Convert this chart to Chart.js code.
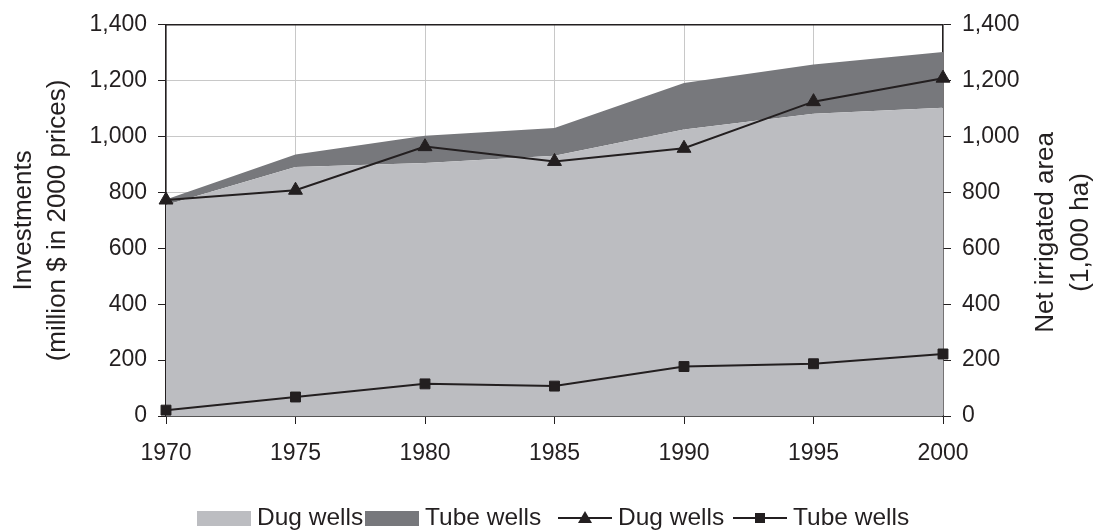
<!DOCTYPE html>
<html>

<head>
    <meta charset="utf-8">
    <title>Wells</title>
    <script src="https://cdn.jsdelivr.net/npm/chart.js"></script>
    <style>
        body {
            margin: 0;
            background: #fff;
        }

        canvas {
            display: block;
        }
    </style>
</head>

<body>
    <canvas id="graph" width="1096" height="531"></canvas>
    <script>
        // data
        const years = ['1970', '1975', '1980', '1985', '1990', '1995', '2000'];
        const dugInvest = [755, 891, 905, 931, 1025, 1082, 1103];
        const tubeInvest = [20, 45, 98, 100, 167, 176, 200];
        const dugArea = [773, 808, 964, 911, 958, 1125, 1209];
        const tubeArea = [21, 68, 115, 107, 177, 187, 222];
        const leftTitle = ['Investments', '(million $ in 2000 prices)'];
        const rightTitle = ['Net irrigated area', '(1,000 ha)'];

        const FONT = "'Liberation Sans', Arial, sans-serif";
        const ink = '#231f20';

        const fmt = v => Number(v).toLocaleString('en-US');

        // rotated axis titles (both read bottom to top)
        const titlePlugin = {
            id: 'titles',
            afterDraw(chart) {
                const ctx = chart.ctx;
                const mid = (chart.chartArea.top + chart.chartArea.bottom) / 2;
                const put = (lines, xs, cy) => {
                    lines.forEach((t, i) => {
                        ctx.save();
                        ctx.translate(xs[i], cy);
                        ctx.rotate(-Math.PI / 2);
                        ctx.fillStyle = ink;
                        ctx.font = '26px ' + FONT;
                        ctx.textAlign = 'center';
                        ctx.textBaseline = 'middle';
                        ctx.fillText(t, 0, 0);
                        ctx.restore();
                    });
                };
                put(leftTitle, [24, 58], mid);
                put(rightTitle, [1046, 1081], mid + 12);

                // top frame line
                const a = chart.chartArea;
                ctx.save();
                ctx.strokeStyle = ink;
                ctx.lineWidth = 1.5;
                ctx.beginPath();
                ctx.moveTo(a.left, a.top);
                ctx.lineTo(a.right, a.top);
                ctx.stroke();
                ctx.restore();
            }
        };

        // legend drawn by hand: boxes for areas, line+marker for lines
        const legendPlugin = {
            id: 'myLegend',
            afterDraw(chart) {
                const ctx = chart.ctx;
                const y = 518;
                const starts = [197, 365, 558, 733];
                ctx.save();
                ctx.font = '24.5px ' + FONT;
                ctx.textBaseline = 'middle';
                ctx.textAlign = 'left';
                chart.data.datasets.forEach((ds, i) => {
                    const x = starts[i];
                    if (ds.fill) {
                        ctx.fillStyle = ds.backgroundColor;
                        ctx.fillRect(x, y - 7, 54, 15);
                    } else {
                        ctx.strokeStyle = ink;
                        ctx.lineWidth = 2;
                        ctx.beginPath();
                        ctx.moveTo(x, y);
                        ctx.lineTo(x + 54, y);
                        ctx.stroke();
                        ctx.fillStyle = ink;
                        const cx = x + 27;
                        ctx.beginPath();
                        if (ds.pointStyle === 'triangle') {
                            ctx.moveTo(cx, y - 7);
                            ctx.lineTo(cx + 7, y + 5);
                            ctx.lineTo(cx - 7, y + 5);
                            ctx.closePath();
                        } else {
                            ctx.rect(cx - 5, y - 5, 10, 10);
                        }
                        ctx.fill();
                    }
                    ctx.fillStyle = ink;
                    ctx.fillText(ds.label, x + 54 + 6, y);
                });
                ctx.restore();
            }
        };

        const ctx = document.getElementById('graph').getContext('2d');
        new Chart(ctx, {
            type: 'line',
            data: {
                labels: years,
                datasets: [
                    {
                        label: 'Dug wells',
                        data: dugInvest,
                        yAxisID: 'y',
                        fill: 'origin',
                        backgroundColor: '#bcbdc1',
                        borderWidth: 0,
                        pointRadius: 0,
                        tension: 0
                    },
                    {
                        label: 'Tube wells',
                        data: tubeInvest,
                        yAxisID: 'y',
                        fill: '-1',
                        backgroundColor: '#77787c',
                        borderWidth: 0,
                        pointRadius: 0,
                        tension: 0
                    },
                    {
                        label: 'Dug wells',
                        data: dugArea,
                        yAxisID: 'y1',
                        fill: false,
                        borderColor: ink,
                        borderWidth: 2,
                        pointStyle: 'triangle',
                        pointRadius: 8,
                        pointBackgroundColor: ink,
                        pointBorderColor: ink,
                        pointBorderWidth: 1,
                        order: -1
                    },
                    {
                        label: 'Tube wells',
                        data: tubeArea,
                        yAxisID: 'y1',
                        fill: false,
                        borderColor: ink,
                        borderWidth: 2,
                        pointStyle: 'rect',
                        pointRadius: 7,
                        pointBackgroundColor: ink,
                        pointBorderColor: ink,
                        pointBorderWidth: 1,
                        order: -1
                    }
                ]
            },
            options: {
                responsive: false,
                animation: false,
                layout: { padding: { top: 20, left: 0, right: 0, bottom: 0 } },
                plugins: {
                    legend: { display: false },
                    tooltip: { enabled: false }
                },
                scales: {
                    x: {
                        grid: { color: '#c8c8c8', tickColor: ink, tickLength: 8, lineWidth: 1 },
                        border: { color: '#555', width: 2 },
                        ticks: { color: ink, font: { family: FONT, size: 23 }, padding: 16, maxRotation: 0 },
                        afterFit(s) { s.height = 115; }
                    },
                    y: {
                        position: 'left',
                        stacked: true,
                        min: 0,
                        max: 1400,
                        grid: { color: '#c8c8c8', tickColor: ink, tickLength: 8 },
                        border: { color: ink, width: 1.5 },
                        ticks: { stepSize: 200, color: ink, font: { family: FONT, size: 23 }, padding: 11, callback: fmt },
                        afterFit(s) { s.width = 166; }
                    },
                    y1: {
                        position: 'right',
                        stacked: false,
                        min: 0,
                        max: 1400,
                        grid: { drawOnChartArea: false, tickColor: ink, tickLength: 8 },
                        border: { color: ink, width: 1.5 },
                        ticks: { stepSize: 200, color: ink, font: { family: FONT, size: 23 }, padding: 11, callback: fmt },
                        afterFit(s) { s.width = 153; }
                    }
                }
            },
            plugins: [titlePlugin, legendPlugin]
        });
    </script>
</body>

</html>
